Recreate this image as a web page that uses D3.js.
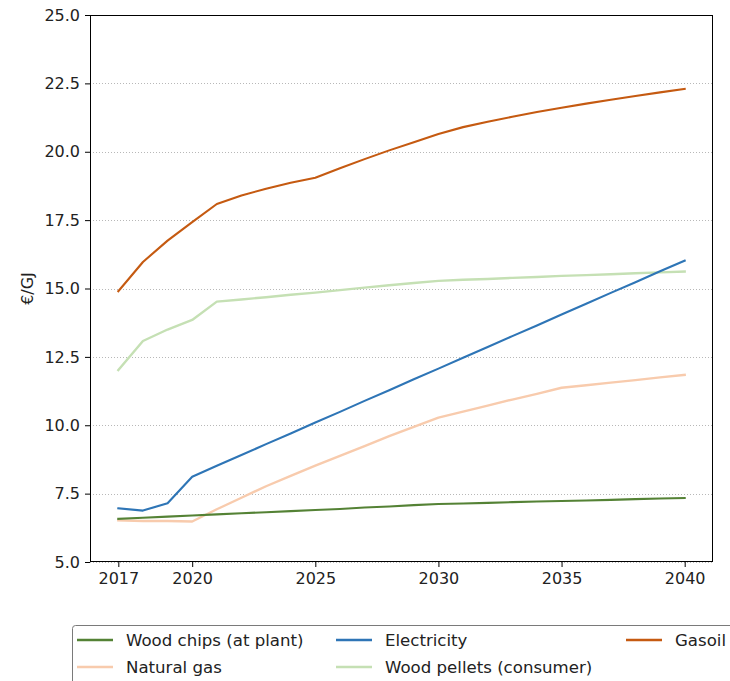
<!DOCTYPE html>
<html>
<head>
<meta charset="utf-8">
<script src="https://cdn.jsdelivr.net/npm/d3@7/dist/d3.min.js"></script>
<style>
  html, body { margin: 0; padding: 0; background: #fff; overflow: hidden; }
  text { font-family: "DejaVu Sans", sans-serif; fill: #222; }
</style>
</head>
<body>
<svg id="chart" width="730" height="681"></svg>
<script>
// Energy price projections, €/GJ, yearly from 2017 to 2040
const years = d3.range(2017, 2041);

const woodChips = [6.58, 6.62, 6.66, 6.70, 6.74, 6.78, 6.82, 6.86, 6.90, 6.94, 6.99, 7.03,
                   7.08, 7.12, 7.14, 7.16, 7.19, 7.21, 7.23, 7.25, 7.27, 7.30, 7.32, 7.34];
const naturalGas = [6.52, 6.50, 6.50, 6.48, 6.93, 7.35, 7.77, 8.15, 8.52, 8.88, 9.24, 9.60,
                    9.94, 10.28, 10.50, 10.72, 10.94, 11.15, 11.37, 11.46, 11.56, 11.65, 11.75, 11.84];
const electricity = [6.96, 6.88, 7.15, 8.12, 8.52, 8.91, 9.31, 9.70, 10.10, 10.49, 10.89, 11.28,
                     11.68, 12.07, 12.47, 12.86, 13.26, 13.65, 14.05, 14.44, 14.84, 15.23, 15.63, 16.02];
const woodPellets = [12.02, 13.08, 13.50, 13.85, 14.52, 14.60, 14.68, 14.77, 14.85, 14.94, 15.03, 15.12,
                     15.20, 15.28, 15.32, 15.35, 15.39, 15.42, 15.46, 15.49, 15.52, 15.56, 15.59, 15.62];
const gasoil = [14.90, 15.97, 16.75, 17.43, 18.09, 18.40, 18.65, 18.87, 19.05, 19.40, 19.73, 20.05,
                20.35, 20.65, 20.90, 21.10, 21.28, 21.45, 21.61, 21.76, 21.90, 22.04, 22.17, 22.30];

const seriesNames = ["Wood chips (at plant)", "Natural gas", "Electricity", "Wood pellets (consumer)", "Gasoil"];
const seriesColors = ["#548235", "#f8cbad", "#2e75b6", "#c5e0b4", "#c55a11"];
const seriesValues = [woodChips, naturalGas, electricity, woodPellets, gasoil];

const xTicks = [2017, 2020, 2025, 2030, 2035, 2040];
const yTicks = [5, 7.5, 10, 12.5, 15, 17.5, 20, 22.5, 25];
const yLabel = "€/GJ";

const svg = d3.select("#chart");
const plot = { left: 90, right: 713, top: 15, bottom: 562 };

// matplotlib-style 5% padding around the year range
const span = years[years.length - 1] - years[0];
const x = d3.scaleLinear()
  .domain([years[0] - span * 0.05, years[years.length - 1] + span * 0.05])
  .range([plot.left, plot.right]);
const y = d3.scaleLinear().domain([5, 25]).range([plot.bottom, plot.top]);

// horizontal dotted grid
svg.append("g")
  .selectAll("line")
  .data(yTicks)
  .join("line")
  .attr("x1", plot.left).attr("x2", plot.right)
  .attr("y1", d => Math.round(y(d)) + 0.5).attr("y2", d => Math.round(y(d)) + 0.5)
  .attr("stroke", "#b0b0b0")
  .attr("stroke-width", 0.9)
  .attr("stroke-dasharray", "1,2");

// series lines
const line = d3.line().x((d, i) => x(years[i])).y(d => y(d));
const drawOrder = [3, 1, 0, 2, 4];
svg.append("g")
  .selectAll("path")
  .data(drawOrder)
  .join("path")
  .attr("d", k => line(seriesValues[k]))
  .attr("fill", "none")
  .attr("stroke", k => seriesColors[k])
  .attr("stroke-width", k => (k === 1 || k === 3) ? 2.4 : 2.1)
  .attr("stroke-linejoin", "round")
  .attr("stroke-linecap", "square");

// axes
const xAxis = d3.axisBottom(x).tickValues(xTicks).tickFormat(d3.format("d")).tickSize(5).tickPadding(6);
const yAxis = d3.axisLeft(y).tickValues(yTicks).tickFormat(d3.format(".1f")).tickSize(5).tickPadding(5);

const gx = svg.append("g").attr("transform", `translate(0,${plot.bottom})`).call(xAxis);
const gy = svg.append("g").attr("transform", `translate(${plot.left},0)`).call(yAxis);
[gx, gy].forEach(g => {
  g.select(".domain").remove();
  g.selectAll(".tick line").attr("stroke", "#000").attr("stroke-width", 1);
  g.selectAll(".tick text").style("font-family", "DejaVu Sans, sans-serif").style("font-size", "16px").attr("fill", "#222");
});

// frame
svg.append("rect")
  .attr("x", plot.left + 0.5).attr("y", plot.top + 0.5)
  .attr("width", plot.right - plot.left - 1).attr("height", plot.bottom - plot.top - 1)
  .attr("fill", "none").attr("stroke", "#000").attr("stroke-width", 1);

// y-axis label
svg.append("text")
  .attr("transform", `translate(33,${(plot.top + plot.bottom) / 2}) rotate(-90)`)
  .attr("text-anchor", "middle")
  .style("font-size", "16px")
  .text(yLabel);

// legend
const legend = svg.append("g");
legend.append("rect")
  .attr("x", 72.5).attr("y", 625.5)
  .attr("width", 700).attr("height", 80)
  .attr("rx", 3)
  .attr("fill", "#fff").attr("stroke", "#7a7a7a").attr("stroke-width", 1);

const cols = [77, 336, 626];
const rows = [640, 667];
const legendOrder = [0, 2, 4, 1, 3];
legendOrder.forEach((k, j) => {
  const cx = cols[j % 3];
  const cy = rows[Math.floor(j / 3)];
  legend.append("line")
    .attr("x1", cx).attr("x2", cx + 36)
    .attr("y1", cy).attr("y2", cy)
    .attr("stroke", seriesColors[k]).attr("stroke-width", 2.4);
  legend.append("text")
    .attr("x", cx + 49).attr("y", cy)
    .attr("dy", "0.35em")
    .style("font-size", "16.6px")
    .text(seriesNames[k]);
});
</script>
</body>
</html>
